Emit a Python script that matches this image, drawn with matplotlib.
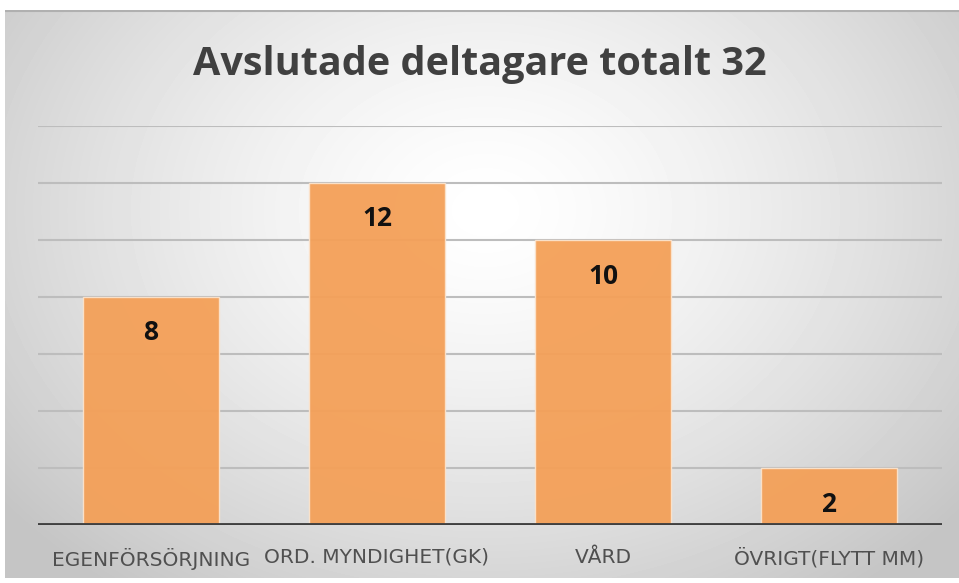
import numpy as np
import matplotlib
matplotlib.use("Agg")
import matplotlib.pyplot as plt

categories = ["EGENFÖRSÖRJNING", "ORD. MYNDIGHET(GK)", "VÅRD", "ÖVRIGT(FLYTT MM)"]
values = [8, 12, 10, 2]
title = "Avslutade deltagare totalt 32"

W, H = 959, 583
fig = plt.figure(figsize=(W / 100, H / 100), dpi=100)
fig.patch.set_facecolor("white")

def px(x0, y0, x1, y1):
    return [x0 / W, 1 - y1 / H, (x1 - x0) / W, (y1 - y0) / H]

# background frame with radial gradient
bg = fig.add_axes(px(5, 10, 959, 578))
yy, xx = np.mgrid[0:568, 0:954]
cx, cy = 480, 200
d = np.sqrt(((xx - cx) / 560.0) ** 2 + ((yy - cy) / 430.0) ** 2)
v = np.clip(1.0 - 0.2 * d ** 1.4, 0.77, 1.0)
bg.imshow(v, cmap="gray", vmin=0, vmax=1, aspect="auto", interpolation="bilinear")
bg.set_axis_off()
bg.plot([0, 953], [0.5, 0.5], color="#B0B0B0", lw=1.5)

ax = fig.add_axes(px(38, 126, 942, 525))
ax.set_facecolor("none")
x = np.arange(len(categories))
ax.set_xlim(-0.5, len(categories) - 0.5)
ax.set_ylim(0, 14)
ax.set_yticks(np.arange(0, 15, 2))
ax.yaxis.grid(True, color="#BDBDBD", lw=1.5)
ax.set_axisbelow(True)
bars = ax.bar(x, values, width=0.605, color="#F4A058", alpha=0.95, zorder=2,
              edgecolor="#FBE3CC", linewidth=1)
ax.axhline(0, color="#404040", lw=3.5, zorder=3)
for s in ax.spines.values():
    s.set_visible(False)
ax.tick_params(left=False, bottom=False, labelleft=False)
ax.set_xticks(x)
ax.set_xticklabels(categories, fontsize=14.5, color="#505050", family="DejaVu Sans")
ax.tick_params(axis="x", pad=13)

for xi, val in zip(x, values):
    ax.annotate(str(val), (xi, val), xytext=(0, -36), textcoords="offset pixels",
                ha="center", va="center", fontsize=19, fontweight="bold",
                color="#111111", family=["Open Sans", "DejaVu Sans"], zorder=4)

fig.text(0.5, 1 - 65 / H, title, ha="center", va="center", fontsize=28.5,
         fontweight="bold", color="#404040", family=["Open Sans", "DejaVu Sans"])

fig.savefig("out.png", dpi=100)
